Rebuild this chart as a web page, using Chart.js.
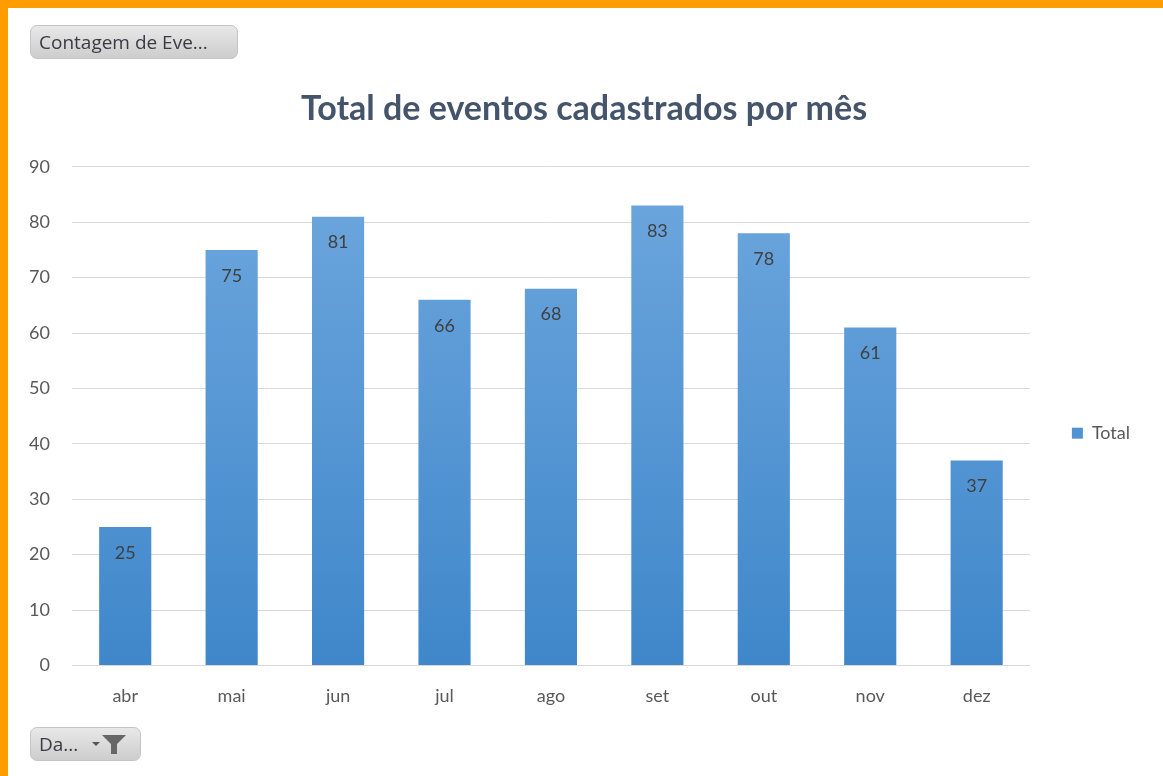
<!DOCTYPE html>
<html lang="pt">
<head>
  <meta charset="UTF-8" />
  <title>Total de eventos cadastrados por mês</title>
  <script src="https://cdn.jsdelivr.net/npm/chart.js"></script>
  <style>
    html, body {
      margin: 0;
      padding: 0;
      background: #fff;
      overflow: hidden;
    }
    .frame {
      position: relative;
      width: 1155px;
      height: 768px;
      border-top: 8px solid #ff9c00;
      border-left: 8px solid #ff9c00;
      background: #fff;
    }
    .chart-box {
      position: absolute;
      left: 0;
      top: 0;
      width: 1155px;
      height: 768px;
    }
    .pivot-btn {
      position: absolute;
      height: 34px;
      box-sizing: border-box;
      border: 1px solid #c4c4c4;
      border-radius: 7px;
      background: linear-gradient(#e8e8e8, #cdcdcd);
      color: #3a3a44;
      font-family: "Open Sans", sans-serif;
      font-size: 19px;
      line-height: 32px;
      padding: 0 8px;
      white-space: nowrap;
    }
    #fieldBtn { left: 22px; top: 17px; width: 208px; }
    #dateBtn { left: 22px; top: 719px; width: 111px; }
    #dateBtn svg { position: absolute; right: 10px; top: 5px; }
  </style>
</head>
<body>
  <div class="frame">
    <div class="chart-box">
      <canvas id="eventsChart" width="1155" height="768"></canvas>
    </div>
    <div class="pivot-btn" id="fieldBtn">Contagem de Eve...</div>
    <div class="pivot-btn" id="dateBtn">Da...
      <svg width="42" height="22" viewBox="0 0 42 22">
        <path d="M4 9 L12 9 L8 13 Z" fill="#555"/>
        <path d="M14 2 L38 2 L29 11 L29 21 L23 21 L23 11 Z" fill="#666"/>
      </svg>
    </div>
  </div>

  <script>
    const months = ['abr', 'mai', 'jun', 'jul', 'ago', 'set', 'out', 'nov', 'dez'];
    const totals = [25, 75, 81, 66, 68, 83, 78, 61, 37];
    const seriesName = 'Total';
    const chartTitle = 'Total de eventos cadastrados por mês';

    const fontFamily = 'Lato, "Open Sans", sans-serif';

    // draws the count just inside the top of each bar
    const insideLabels = {
      id: 'insideLabels',
      afterDatasetsDraw(chart) {
        const ctx = chart.ctx;
        const meta = chart.getDatasetMeta(0);
        ctx.save();
        ctx.font = '18px ' + fontFamily;
        ctx.fillStyle = '#404040';
        ctx.textAlign = 'center';
        ctx.textBaseline = 'middle';
        meta.data.forEach((bar, i) => {
          ctx.fillText(totals[i], bar.x, bar.y + 26);
        });
        ctx.restore();
      }
    };

    function barFill(context) {
      const area = context.chart.chartArea;
      if (!area) return '#5b9bd5';
      const g = context.chart.ctx.createLinearGradient(0, area.top, 0, area.bottom);
      g.addColorStop(0, '#6ea7de');
      g.addColorStop(1, '#3f87ca');
      return g;
    }

    const chart = new Chart(document.getElementById('eventsChart'), {
      type: 'bar',
      data: {
        labels: months,
        datasets: [{
          label: seriesName,
          data: totals,
          backgroundColor: barFill,
          borderWidth: 0,
          categoryPercentage: 1,
          barPercentage: 0.49
        }]
      },
      options: {
        responsive: false,
        animation: false,
        layout: {
          padding: { left: 20, right: 23, top: 81, bottom: 49 }
        },
        scales: {
          x: {
            grid: { display: false, drawTicks: false },
            border: { color: '#d9d9d9' },
            ticks: {
              color: '#595959',
              font: { family: fontFamily, size: 18 },
              padding: 20
            }
          },
          y: {
            min: 0,
            max: 90,
            grid: { color: '#d9d9d9', drawTicks: false },
            border: { display: false },
            ticks: {
              stepSize: 10,
              color: '#595959',
              font: { family: fontFamily, size: 18 },
              padding: 22
            },
            afterFit(scale) { scale.width = 44; }
          }
        },
        plugins: {
          title: {
            display: true,
            text: chartTitle,
            color: '#44546a',
            font: { family: fontFamily, size: 34, weight: 'bold' },
            padding: { top: 0, bottom: 37 }
          },
          legend: {
            position: 'right',
            title: { display: true, text: '', padding: { top: 36, bottom: 0 } },
            labels: {
              boxWidth: 11,
              boxHeight: 11,
              padding: 42,
              color: '#595959',
              font: { family: fontFamily, size: 18 },
              generateLabels() {
                return [{ text: seriesName, fillStyle: '#4f93d3', strokeStyle: '#4f93d3', fontColor: '#595959', lineWidth: 0, datasetIndex: 0 }];
              }
            }
          },
          tooltip: { enabled: false }
        }
      },
      plugins: [insideLabels]
    });
  </script>
</body>
</html>
